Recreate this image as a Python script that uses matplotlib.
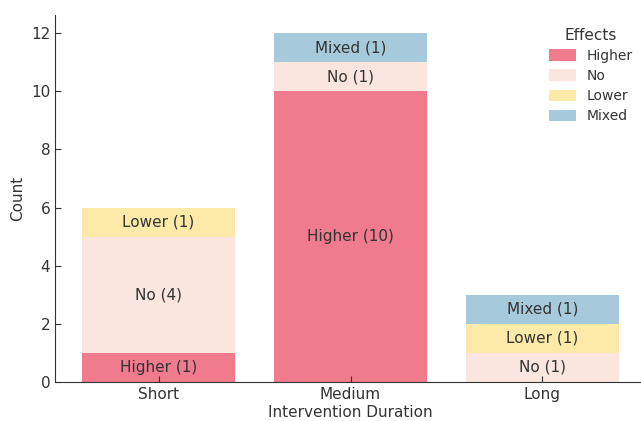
import matplotlib
matplotlib.use("Agg")
import matplotlib.pyplot as plt
import numpy as np

durations = ["Short", "Medium", "Long"]
effects = ["Higher", "No", "Lower", "Mixed"]
higher = [1, 10, 0]
no_eff = [4, 1, 1]
lower = [1, 0, 1]
mixed = [0, 1, 1]
colors = ["#EF7B8D", "#FAE5DF", "#FDEAA8", "#A6CADB"]

series = [higher, no_eff, lower, mixed]

fig = plt.figure(figsize=(6.41, 4.21), dpi=100)
ax = fig.add_axes([55 / 641, (421 - 382) / 421, 591 / 641, (382 - 15) / 421])

x = np.arange(len(durations))
bottom = np.zeros(len(durations))
text_color = "#333333"
for name, vals, col in zip(effects, series, colors):
    vals = np.array(vals, dtype=float)
    ax.bar(x, vals, 0.8, bottom=bottom, color=col, label=name)
    for xi, v, b in zip(x, vals, bottom):
        if v > 0:
            ax.text(xi, b + v / 2, f"{name} ({int(v)})", ha="center", va="center",
                    fontsize=11, color=text_color)
    bottom += vals

ax.set_xlim(-0.54, 2.54)
ax.set_ylim(0, 12.62)
ax.set_xticks(x)
ax.set_xticklabels(durations)
ax.set_yticks(range(0, 13, 2))
ax.tick_params(direction="in", labelsize=11, colors=text_color, length=4)
ax.set_xlabel("Intervention Duration", fontsize=11, color=text_color, labelpad=2)
ax.set_ylabel("Count", fontsize=11, color=text_color)
for s in ["top", "right"]:
    ax.spines[s].set_visible(False)
for s in ["left", "bottom"]:
    ax.spines[s].set_color(text_color)

leg = ax.legend(title="Effects", frameon=False, fontsize=10, title_fontsize=11,
                loc="upper right", bbox_to_anchor=(0.999, 1.0), handlelength=1.9,
                handleheight=0.9, labelspacing=0.45)
for t in leg.get_texts():
    t.set_color(text_color)
leg.get_title().set_color(text_color)

fig.savefig("out.png", dpi=100)
